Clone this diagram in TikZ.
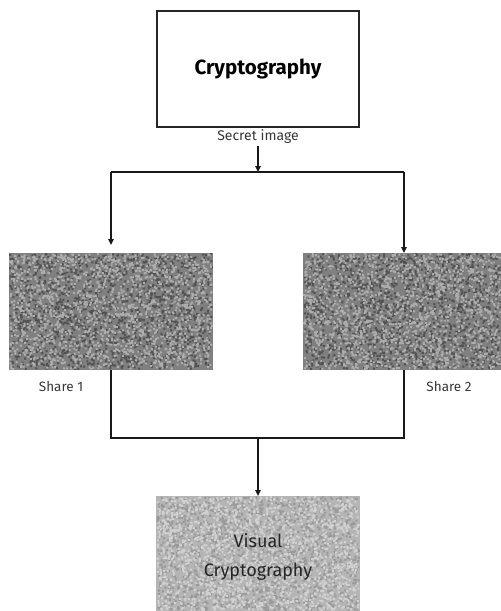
\documentclass[tikz,border=0pt]{standalone}
\usepackage{fontspec}
\setmainfont{Fira Sans}
\usetikzlibrary{arrows.meta}
\tikzset{
  conn/.style={line width=1.6pt, draw=black!90},
  arr/.style={conn, -{Triangle[length=6pt,width=5.5pt]}},
  sharebox/.style={minimum width=#1, minimum height=117pt, inner sep=0pt, anchor=north west},
  lbl/.style={font=\fontsize{13.5}{15}\selectfont, text=black!78, inner sep=0pt}
}
\begin{document}
\begin{tikzpicture}[x=1pt,y=-1pt]
\useasboundingbox (0,0) rectangle (501,611);
\fill[white] (0,0) rectangle (501,611);
\pgfmathsetseed{12345}
% share 1 noise
\fill[black!50] (9,253) rectangle (213,370);
\fill[black!68] \foreach \i in {1,...,1700} { ({9+rnd*202},{253+rnd*115}) rectangle ++(2,2) };
\fill[black!32] \foreach \i in {1,...,1700} { ({9+rnd*202},{253+rnd*115}) rectangle ++(2,2) };
% share 2 noise
\fill[black!50] (303,253) rectangle (501,370);
\fill[black!68] \foreach \i in {1,...,1650} { ({303+rnd*196},{253+rnd*115}) rectangle ++(2,2) };
\fill[black!32] \foreach \i in {1,...,1650} { ({303+rnd*196},{253+rnd*115}) rectangle ++(2,2) };
% visual noise
\fill[black!29] (156,496) rectangle (360,611);
\fill[black!40] \foreach \i in {1,...,1700} { ({156+rnd*202},{496+rnd*113}) rectangle ++(2,2) };
\fill[black!18] \foreach \i in {1,...,1700} { ({156+rnd*202},{496+rnd*113}) rectangle ++(2,2) };
% nodes
\node[draw=black!85, line width=1.5pt, minimum width=202pt, minimum height=116pt, inner sep=0pt,
      font=\fontsize{20.5}{24}\selectfont\bfseries] (crypto) at (258,69) {Cryptography};
\node[lbl, font=\fontsize{14}{16}\selectfont] (secret) at (258,137) {Secret image};
\node[sharebox=204pt] (share1) at (9,253) {};
\node[sharebox=198pt] (share2) at (303,253) {};
\node[lbl] (s1lbl) at (61,387) {Share 1};
\node[lbl] (s2lbl) at (449,387) {Share 2};
\node[minimum width=204pt, minimum height=115pt, inner sep=0pt, align=center,
      font=\fontsize{18}{29}\selectfont, text=black!85] (vis) at (258,557) {Visual\\Cryptography};
% connector coordinates
\coordinate (split) at (258,172);
\coordinate (tl) at (111,172);
\coordinate (tr) at (404,172);
\coordinate (bl) at (111,438);
\coordinate (br) at (404,438);
\coordinate (merge) at (258,438);
\coordinate (s1top) at (111,253);
\coordinate (s2top) at (404,253);
\coordinate (s1bot) at (111,370);
\coordinate (s2bot) at (404,370);
\coordinate (vistop) at (258,496);
\coordinate (secbot) at (258,146);
% connectors
\draw[arr] (secbot) -- (split);
\draw[conn] (tl) -- (tr);
\draw[arr, shorten >=8pt] (tl) -- (s1top);
\draw[arr] (tr) -- (s2top);
\draw[conn] (s1bot) -- (bl) -- (br) -- (s2bot);
\draw[arr] (merge) -- (vistop);
\end{tikzpicture}
\end{document}
